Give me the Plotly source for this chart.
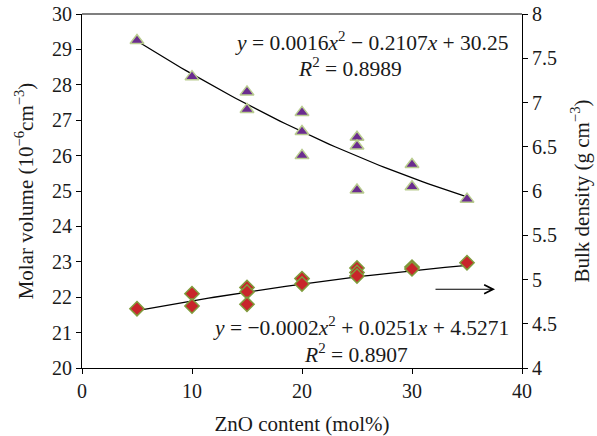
import numpy as np
import plotly.graph_objects as go

# Molar volume (left axis) – triangles
mv_x = [5, 10, 15, 15, 20, 20, 20, 25, 25, 25, 30, 30, 35]
mv_y = [29.25, 28.23, 27.80, 27.30, 27.22, 26.68, 26.00, 26.52, 26.27, 25.03, 25.75, 25.12, 24.77]

# Bulk density (right axis) – diamonds
bd_x = [5, 10, 10, 15, 15, 15, 20, 20, 25, 25, 25, 30, 30, 35]
bd_y = [4.67, 4.84, 4.70, 4.91, 4.86, 4.72, 5.01, 4.95, 5.13, 5.08, 5.04, 5.14, 5.12, 5.19]

# Fit coefficients shown on chart
mv_fit = [0.0016, -0.2107, 30.25]
bd_fit = [-0.0002, 0.0251, 4.5271]

x_ticks = [0, 10, 20, 30, 40]
y1_ticks = list(range(20, 31))
y2_ticks = [4, 4.5, 5, 5.5, 6, 6.5, 7, 7.5, 8]

FONT = "Liberation Serif"
TXT = "#1a1a1a"
fx = np.linspace(5, 35, 61)

fig = go.Figure()
fig.add_trace(go.Scatter(x=fx, y=np.polyval(mv_fit, fx), mode="lines",
                         line=dict(color="black", width=1.3), showlegend=False))
fig.add_trace(go.Scatter(x=mv_x, y=mv_y, mode="markers",
                         marker=dict(symbol="triangle-up", size=12, color="#6b2c8f",
                                     line=dict(color="#b9cc8f", width=1.5)),
                         showlegend=False))
fig.add_trace(go.Scatter(x=fx, y=np.polyval(bd_fit, fx), mode="lines", yaxis="y2",
                         line=dict(color="black", width=1.3), showlegend=False))
fig.add_trace(go.Scatter(x=bd_x, y=bd_y, mode="markers", yaxis="y2",
                         marker=dict(symbol="diamond", size=11, color="#c8252b",
                                     line=dict(color="#7f9c3c", width=1.5)),
                         showlegend=False))

axis_common = dict(showgrid=False, zeroline=False, showline=True, linecolor="black",
                   linewidth=1.2, ticks="outside", ticklen=5, tickcolor="black",
                   automargin=False,
                   tickfont=dict(family=FONT, size=20, color=TXT))
title_font = dict(family=FONT, size=21, color=TXT)
eq_font = dict(family=FONT, size=21.5, color=TXT)

fig.update_layout(
    width=597, height=436,
    margin=dict(l=82, r=75, t=14, b=68),
    paper_bgcolor="white", plot_bgcolor="white",
    font=dict(family=FONT, size=20, color=TXT),
    xaxis=dict(range=[0, 40], tickvals=x_ticks,
               title=dict(text="ZnO content (mol%)", font=title_font, standoff=15),
               **axis_common),
    yaxis=dict(range=[20, 30], tickvals=y1_ticks,
               title=dict(text="Molar volume (10<sup>−6</sup>cm<sup>−3</sup>)",
                          font=title_font, standoff=12),
               **axis_common),
    yaxis2=dict(range=[4, 8], tickvals=y2_ticks, overlaying="y", side="right",
                title=dict(text="Bulk density (g cm<sup>−3</sup>)",
                           font=title_font, standoff=18),
                **axis_common),
    shapes=[dict(type="line", xref="paper", yref="paper", x0=0, x1=1, y0=1, y1=1,
                 line=dict(color="black", width=1.2))],
    annotations=[
        dict(x=0.972, y=0.922, xref="paper", yref="paper", showarrow=False,
             text="<i>y</i> = 0.0016<i>x</i><sup>2</sup> − 0.2107<i>x</i> + 30.25",
             font=eq_font, xanchor="right", yanchor="middle"),
        dict(x=0.61, y=0.85, xref="paper", yref="paper", showarrow=False,
             text="<i>R</i><sup>2</sup> = 0.8989",
             font=eq_font, xanchor="center", yanchor="middle"),
        dict(x=0.975, y=0.116, xref="paper", yref="paper", showarrow=False,
             text="<i>y</i> = −0.0002<i>x</i><sup>2</sup> + 0.0251<i>x</i> + 4.5271",
             font=eq_font, xanchor="right", yanchor="middle"),
        dict(x=0.623, y=0.040, xref="paper", yref="paper", showarrow=False,
             text="<i>R</i><sup>2</sup> = 0.8907",
             font=eq_font, xanchor="center", yanchor="middle"),
        dict(x=37.55, y=4.89, xref="x", yref="y2", ax=32.0, ay=4.89, axref="x", ayref="y2",
             showarrow=True, arrowhead=5, arrowsize=1.6, arrowwidth=1.1, arrowcolor="black",
             text=""),
    ],
)

fig.write_html("out.html", config={"displayModeBar": False},
               post_script="document.body.style.margin='0px';")
